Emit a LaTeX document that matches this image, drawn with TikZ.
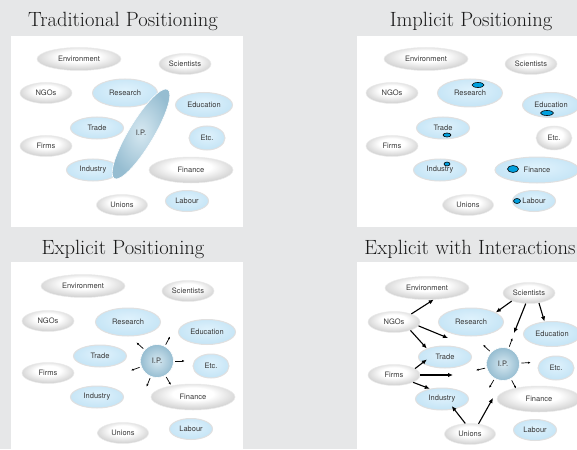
\documentclass[tikz,border=0pt]{standalone}
\usepackage{fontspec}
\newfontfamily\labelfont{TeX Gyre Heros}
\usetikzlibrary{shapes.geometric, arrows.meta, calc}

\definecolor{bggray}{RGB}{230,231,232}
\definecolor{ipinner}{RGB}{214,232,241}
\definecolor{ipouter}{RGB}{150,189,209}
\definecolor{dotblue}{RGB}{0,160,222}

\pgfdeclareradialshading{grayglow}{\pgfpoint{0bp}{8bp}}{color(0bp)=(white); color(12bp)=(white); color(31bp)=(black!22); color(50bp)=(black!22)}
\pgfdeclareradialshading{blueglow}{\pgfpoint{0bp}{6bp}}{rgb(0bp)=(0.87,0.95,0.99); rgb(10bp)=(0.84,0.93,0.98); rgb(30bp)=(0.76,0.89,0.96); rgb(50bp)=(0.76,0.89,0.96)}

\begin{document}
\begin{tikzpicture}[x=1pt, y=-1pt,
  every node/.style={ellipse, inner sep=0pt, text=black!78,
    font=\labelfont\fontsize{7.5}{8}\selectfont},
  plainell/.style={shading=grayglow, draw=black!8, line width=0.5pt},
  blueell/.style={shading=blueglow, draw=black!12, line width=1pt},
  ipell/.style={shade, inner color=ipinner, outer color=ipouter, draw=white, line width=0.6pt},
  dotell/.style={fill=dotblue, draw=black, line width=0.6pt},
  title/.style={rectangle, anchor=base, text=black!90, font=\fontsize{20.6}{22}\selectfont},
  envsize/.style={minimum width=84pt, minimum height=23pt},
  scisize/.style={minimum width=52pt, minimum height=21pt},
  ngosize/.style={minimum width=52pt, minimum height=21pt},
  ressize/.style={minimum width=65pt, minimum height=28pt},
  edusize/.style={minimum width=57pt, minimum height=25pt},
  trdsize/.style={minimum width=53pt, minimum height=22pt},
  etcsize/.style={minimum width=36pt, minimum height=24pt},
  frmsize/.style={minimum width=52pt, minimum height=21pt},
  indsize/.style={minimum width=53pt, minimum height=22pt},
  finsize/.style={minimum width=84pt, minimum height=26pt},
  unisize/.style={minimum width=51pt, minimum height=21pt},
  labsize/.style={minimum width=43pt, minimum height=21pt},
  spoke/.style={line width=0.7pt, -{Latex[length=2.6pt, width=2.2pt]}},
  link/.style={line width=1.1pt, -{Latex[length=5pt, width=4.4pt]}}]

\useasboundingbox (0,0) rectangle (577,449);
\fill[bggray] (0,0) rectangle (577,449);
\fill[white] (11,36) rectangle (243,227);
\fill[white] (357,36) rectangle (577,227);
\fill[white] (11,262) rectangle (243,449);
\fill[white] (357,262) rectangle (577,449);

\node[title] (title1) at (123,27) {Traditional Positioning};
\node[title] (title2) at (471,27) {Implicit Positioning};
\node[title] (title3) at (123,254) {Explicit Positioning};
\node[title] (title4) at (470,254) {Explicit with Interactions};

% Traditional
\node[plainell, envsize] (env1) at (79,59) {Environment};
\node[plainell, scisize] (sci1) at (185,64) {Scientists};
\node[plainell, ngosize] (ngo1) at (46,93) {NGOs};
\node[blueell, ressize] (res1) at (125,93) {Research};
\node[blueell, edusize] (edu1) at (204,105) {Education};
\node[blueell, trdsize] (trd1) at (97,128) {Trade};
\node[blueell, etcsize] (etc1) at (207,138) {Etc.};
\node[plainell, frmsize] (frm1) at (46,146) {Firms};
\node[blueell, indsize] (ind1) at (93,170) {Industry};
\node[plainell, finsize] (fin1) at (191,170) {Finance};
\node[plainell, unisize] (uni1) at (122,205) {Unions};
\node[blueell, labsize] (lab1) at (187,201) {Labour};
\node[ipell, rotate=59, minimum width=104pt, minimum height=25pt] (ip1) at (141,134) {};
\node (iplbl1) at (141,133) {I.P.};

% Implicit
\node[plainell, envsize] (env2) at (426,59) {Environment};
\node[plainell, scisize] (sci2) at (531,64) {Scientists};
\node[plainell, ngosize] (ngo2) at (392,93) {NGOs};
\node[blueell, ressize] (res2) at (470,93) {Research};
\node[blueell, edusize] (edu2) at (551,105) {Education};
\node[blueell, trdsize] (trd2) at (443,128) {Trade};
\node[plainell, etcsize] (etc2) at (554,138) {Etc.};
\node[plainell, frmsize] (frm2) at (392,146) {Firms};
\node[blueell, indsize] (ind2) at (440,170) {Industry};
\node[blueell, finsize] (fin2) at (537,170) {Finance};
\node[plainell, unisize] (uni2) at (468,205) {Unions};
\node[blueell, labsize] (lab2) at (534,201) {Labour};

\node[dotell, minimum width=12pt, minimum height=5pt] (resdot) at (478,85) {};
\node[dotell, minimum width=13pt, minimum height=5pt] (edudot) at (547,113) {};
\node[dotell, minimum width=8pt, minimum height=4pt] (trddot) at (447,135) {};
\node[dotell, minimum width=6pt, minimum height=4pt] (inddot) at (447,164) {};
\node[dotell, minimum width=11pt, minimum height=7pt] (findot) at (513,169) {};
\node[dotell, minimum width=7pt, minimum height=5pt] (labdot) at (517,201) {};

% Explicit
\node[plainell, envsize] (env3) at (83,286) {Environment};
\node[plainell, scisize] (sci3) at (188,291) {Scientists};
\node[plainell, ngosize] (ngo3) at (48,321) {NGOs};
\node[blueell, ressize] (res3) at (128,322) {Research};
\node[blueell, edusize] (edu3) at (207,332) {Education};
\node[blueell, trdsize] (trd3) at (100,356) {Trade};
\node[ipell, circle, minimum size=33pt] (ip3) at (157,361) {I.P.};
\node[blueell, etcsize] (etc3) at (211,366) {Etc.};
\node[plainell, frmsize] (frm3) at (48,373) {Firms};
\node[blueell, indsize] (ind3) at (97,397) {Industry};
\node[plainell, finsize] (fin3) at (193,397) {Finance};
\node[plainell, unisize] (uni3) at (123,433) {Unions};
\node[blueell, labsize] (lab3) at (191,429) {Labour};

\foreach \a in {138,62,0,-60,-112,200}
  \draw[spoke] ($(ip3.center)!1.1!(ip3.\a)$) -- ($(ip3.center)!1.65!(ip3.\a)$);

% Explicit with interactions
\node[plainell, envsize] (env4) at (427,288) {Environment};
\node[plainell, scisize] (sci4) at (529,293) {Scientists};
\node[plainell, ngosize] (ngo4) at (394,322) {NGOs};
\node[blueell, ressize] (res4) at (471,322) {Research};
\node[blueell, edusize] (edu4) at (552,334) {Education};
\node[blueell, trdsize] (trd4) at (445,357) {Trade};
\node[ipell, circle, minimum size=33pt] (ip4) at (503,364) {I.P.};
\node[blueell, etcsize] (etc4) at (556,368) {Etc.};
\node[plainell, frmsize] (frm4) at (394,375) {Firms};
\node[blueell, indsize] (ind4) at (442,399) {Industry};
\node[plainell, finsize] (fin4) at (539,399) {Finance};
\node[plainell, unisize] (uni4) at (470,434) {Unions};
\node[blueell, labsize] (lab4) at (535,430) {Labour};

\coordinate (ngotip) at (448,338);
\coordinate (firmtip) at (453,375);
\coordinate (scitip) at (514,333);
\coordinate (unitip) at (493,398);

\foreach \a in {136,70,3,-62,-120,193}
  \draw[spoke] ($(ip4.center)!1.1!(ip4.\a)$) -- ($(ip4.center)!1.65!(ip4.\a)$);

\draw[link] (ngo4.25) -- (env4.-60);
\draw[link] (ngo4.-9) -- (ngotip);
\draw[link] (ngo4.-27) -- (trd4.155);
\draw[link, shorten >=-6pt] (frm4.17) -- (trd4.195);
\draw[link] (frm4.0) -- (firmtip);
\draw[link] (frm4.-21) -- (ind4.140);
\draw[link] (sci4.205) -- (res4.21);
\draw[link] (sci4.253) -- (scitip);
\draw[link] (sci4.-45) -- (edu4.121);
\draw[link, shorten >=-4pt] (uni4.114) -- (ind4.-40);
\draw[link] (uni4.50) -- (unitip);

\end{tikzpicture}
\end{document}
